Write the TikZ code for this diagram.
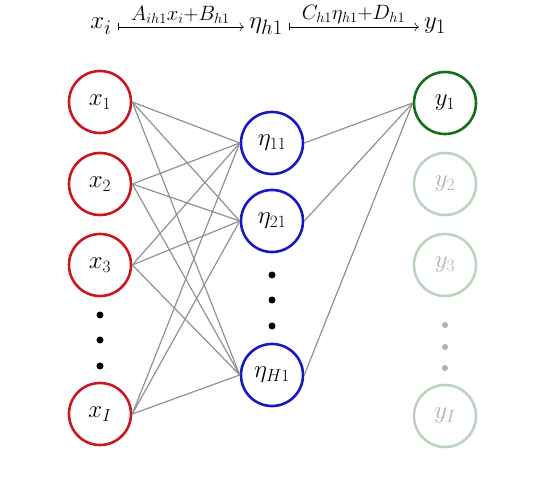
\documentclass[tikz,border=0pt]{standalone}
\usetikzlibrary{arrows.meta}
\definecolor{xred}{RGB}{200,25,35}
\definecolor{hblue}{RGB}{25,25,195}
\definecolor{ygreen}{RGB}{20,110,25}
\definecolor{ypale}{RGB}{190,210,190}
\definecolor{ytext}{RGB}{175,175,180}
\definecolor{edgegray}{RGB}{145,145,145}
\begin{document}
\begin{tikzpicture}[x=1pt,y=-1pt,
  nd/.style={circle, line width=2.6pt, minimum size=62pt, inner sep=0pt, font=\fontsize{25}{30}\selectfont},
  xnode/.style={nd, draw=xred},
  hnode/.style={nd, draw=hblue},
  ynode/.style={nd, draw=ygreen},
  ypnode/.style={nd, draw=ypale, text=ytext},
  edge/.style={draw=edgegray, line width=1.2pt},
  bdot/.style={circle, fill=black, inner sep=0pt, minimum size=7pt},
  pdot/.style={circle, fill=ytext, inner sep=0pt, minimum size=6pt},
  topsym/.style={font=\fontsize{31}{36}\selectfont, text height=0.7em, text depth=0.3em, inner sep=2pt},
  maparrow/.style={line width=0.5pt, shorten <=4pt, shorten >=3pt, {Bar[width=7pt]}-{Computer Modern Rightarrow[scale=1.6]}},
  maplabel/.style={above=0pt, font=\fontsize{29}{34}\selectfont}]
\useasboundingbox (0,0) rectangle (554,478);
% top mapping
\node[topsym] (tx) at (101,27) {$x_i$};
\node[topsym] (te) at (266,27) {$\eta_{h1}$};
\node[topsym] (ty) at (435,27) {$y_1$};
\draw[maparrow] (tx) -- node[maplabel] {$\scriptstyle A_{ih1}x_i+B_{h1}$} (te);
\draw[maparrow] (te) -- node[maplabel] {$\scriptstyle C_{h1}\eta_{h1}+D_{h1}$} (ty);
% inputs
\node[xnode] (x1) at (100,102) {$x_1$};
\node[xnode] (x2) at (100,184) {$x_2$};
\node[xnode] (x3) at (100,265) {$x_3$};
\node[xnode] (xI) at (100,414) {$x_I$};
\node[bdot] (xd1) at (100,315) {};
\node[bdot] (xd2) at (100,340) {};
\node[bdot] (xd3) at (100,366) {};
% hidden
\node[hnode] (h1) at (272,143) {$\eta_{11}$};
\node[hnode] (h2) at (272,221) {$\eta_{21}$};
\node[hnode] (hH) at (272,375) {$\eta_{H1}$};
\node[bdot] (hd1) at (272,275) {};
\node[bdot] (hd2) at (272,300) {};
\node[bdot] (hd3) at (272,326) {};
% outputs
\node[ynode] (y1) at (445,103) {$y_1$};
\node[ypnode] (y2) at (445,184) {$y_2$};
\node[ypnode] (y3) at (445,265) {$y_3$};
\node[ypnode] (yI) at (445,416) {$y_I$};
\node[pdot] (yd1) at (445,325) {};
\node[pdot] (yd2) at (445,347) {};
\node[pdot] (yd3) at (445,368) {};
% edges
\foreach \a in {x1,x2,x3,xI}
  \foreach \b in {h1,h2,hH}
    \draw[edge] (\a.east) -- (\b.west);
\foreach \b in {h1,h2,hH}
  \draw[edge] (\b.east) -- (y1.west);
\end{tikzpicture}
\end{document}
